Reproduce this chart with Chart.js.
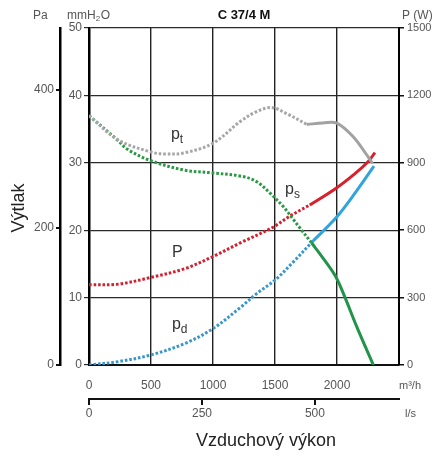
<!DOCTYPE html>
<html>
<head>
<meta charset="utf-8">
<script src="https://cdn.jsdelivr.net/npm/chart.js@4.4.1/dist/chart.umd.min.js"></script>
<style>
  html, body { margin: 0; padding: 0; background: #fff; }
  #obal { width: 433px; height: 456px; }
</style>
</head>
<body>
<div id="obal"><canvas id="graf"></canvas></div>
<script>
// prutok v m3/h, tlak v mmH2O, prikon ve W
var prutokPtTeckovany = [0, 234, 500, 613, 774, 1000, 1225, 1352, 1473, 1594, 1756];
var tlakPtTeckovany = [37.0, 33.4, 31.6, 31.3, 31.5, 32.9, 36.2, 37.6, 38.2, 37.3, 35.7];
var prutokPtPlny = [1756, 1887, 1998, 2129, 2250, 2285];
var tlakPtPlny = [35.7, 35.9, 35.9, 33.9, 30.9, 29.9];

var prutokPsTeckovany = [0, 234, 310, 500, 774, 1000, 1231, 1352, 1460, 1567, 1648, 1702, 1796];
var tlakPsTeckovany = [37.0, 33.3, 32.0, 30.3, 28.9, 28.5, 28.0, 27.2, 25.5, 23.5, 21.6, 20.3, 18.1];
var prutokPsPlny = [1796, 1890, 1990, 2065, 2159, 2293];
var tlakPsPlny = [18.1, 15.8, 13.1, 10.0, 5.7, 0];

var prutokPdTeckovany = [0, 236, 500, 774, 1000, 1225, 1352, 1500, 1648, 1796];
var tlakPdTeckovany = [0, 0.5, 1.5, 3.2, 5.4, 8.6, 10.6, 12.6, 15.3, 18.2];
var prutokPdPlny = [1796, 1990, 2145, 2298];
var tlakPdPlny = [18.2, 21.8, 25.5, 29.5];

var prutokPTeckovany = [0, 236, 500, 774, 1000, 1225, 1480, 1621, 1780];
var prikonPTeckovany = [357, 360, 390, 429, 483, 545, 612, 663, 712];
var prutokPPlny = [1780, 1990, 2145, 2252, 2306];
var prikonPPlny = [712, 786, 852, 906, 945];

var tickyPrutok = [0, 500, 1000, 1500, 2000];
var tickyLs = [0, 250, 500];
var tickyPa = [0, 200, 400];

var PISMO = '"Liberation Sans", Arial, sans-serif';
var TECKY = [2.6, 1.9];

function bodyKrivky(xs, ys) {
    var body = [];
    for (var i = 0; i < xs.length; i++) {
        body.push({x: xs[i], y: ys[i]});
    }
    return body;
}

function krivka(xs, ys, barva, teckovana, osa) {
    return {
        data: bodyKrivky(xs, ys),
        borderColor: barva,
        borderWidth: 3,
        borderDash: teckovana ? TECKY : [],
        pointRadius: 0,
        tension: 0.35,
        fill: false,
        yAxisID: osa || 'y'
    };
}

function nastavTicky(hodnoty) {
    return function (scale) {
        scale.ticks = hodnoty.map(function (v) { return {value: v}; });
    };
}

function pevnaSirka(w) {
    return function (scale) { scale.width = w; };
}

function pevnaVyska(h) {
    return function (scale) { scale.height = h; };
}

function cislo(v) {
    return String(v);
}

function textSIndexem(ctx, zaklad, index, x, y, velikost) {
    ctx.font = velikost + 'px ' + PISMO;
    ctx.fillText(zaklad, x, y);
    var w = ctx.measureText(zaklad).width;
    ctx.font = Math.round(velikost * 0.72) + 'px ' + PISMO;
    ctx.fillText(index, x + w, y + velikost * 0.25);
}

var popisky = {
    id: 'popisky',
    afterDraw: function (chart) {
        var ctx = chart.ctx;
        var sx = chart.scales.x;
        var sy = chart.scales.y;
        var area = chart.chartArea;
        ctx.save();
        ctx.textAlign = 'left';
        ctx.textBaseline = 'alphabetic';

        // nazvy krivek
        ctx.fillStyle = '#333';
        textSIndexem(ctx, 'p', 't', sx.getPixelForValue(661), sy.getPixelForValue(33.5), 16);
        textSIndexem(ctx, 'p', 's', sx.getPixelForValue(1581), sy.getPixelForValue(25.4), 16);
        ctx.font = '16px ' + PISMO;
        ctx.fillText('P', sx.getPixelForValue(669), sy.getPixelForValue(16.0));
        textSIndexem(ctx, 'p', 'd', sx.getPixelForValue(669), sy.getPixelForValue(5.3), 16);

        // jednotky os
        ctx.fillStyle = '#555';
        ctx.font = '12px ' + PISMO;
        ctx.fillText('Pa', 33, 19);
        ctx.fillText('mmH', 67, 19);
        var wmm = ctx.measureText('mmH').width;
        ctx.font = '8px ' + PISMO;
        ctx.fillText('2', 67 + wmm, 21);
        ctx.font = '12px ' + PISMO;
        ctx.fillText('O', 67 + wmm + 5, 19);
        ctx.fillText('P (W)', 402, 19);
        ctx.font = '11px ' + PISMO;
        ctx.fillText('m³/h', 399, 389);
        ctx.fillText('l/s', 405, 417);

        // titulek
        ctx.fillStyle = '#111';
        ctx.font = 'bold 13px ' + PISMO;
        ctx.textAlign = 'center';
        ctx.fillText('C 37/4 M', (area.left + area.right) / 2, 19);

        // popisy os
        ctx.fillStyle = '#222';
        ctx.font = '18px ' + PISMO;
        ctx.fillText('Vzduchový výkon', 266, 446);
        ctx.translate(24, 208);
        ctx.rotate(-Math.PI / 2);
        ctx.fillText('Výtlak', 0, 0);
        ctx.restore();
    }
};

Chart.defaults.font.family = PISMO;

var ctx = document.getElementById('graf').getContext('2d');

new Chart(ctx, {
    type: 'line',
    data: {
        datasets: [
            krivka(prutokPtTeckovany, tlakPtTeckovany, '#a6a6a6', true),
            krivka(prutokPtPlny, tlakPtPlny, '#a2a2a2', false),
            krivka(prutokPsTeckovany, tlakPsTeckovany, '#2a9844', true),
            krivka(prutokPsPlny, tlakPsPlny, '#22944a', false),
            krivka(prutokPdTeckovany, tlakPdTeckovany, '#3796cc', true),
            krivka(prutokPdPlny, tlakPdPlny, '#2fa4dd', false),
            krivka(prutokPTeckovany, prikonPTeckovany, '#d3202f', true, 'yW'),
            krivka(prutokPPlny, prikonPPlny, '#d7202c', false, 'yW')
        ]
    },
    options: {
        responsive: true,
        maintainAspectRatio: false,
        animation: false,
        layout: { padding: { left: 0, right: 0, top: 28, bottom: 30 } },
        plugins: {
            legend: { display: false },
            tooltip: { enabled: false },
            title: { display: false }
        },
        scales: {
            x: {
                type: 'linear',
                position: 'bottom',
                weight: 0,
                min: 0,
                max: 2500,
                afterBuildTicks: nastavTicky(tickyPrutok),
                afterFit: pevnaVyska(34),
                grid: { color: '#222', lineWidth: 1.4, drawTicks: false },
                border: { display: true, color: '#111', width: 2 },
                ticks: { color: '#555', font: { size: 12 }, padding: 13, maxRotation: 0, callback: cislo }
            },
            xls: {
                type: 'linear',
                position: 'bottom',
                weight: 1,
                min: 0,
                max: 686,
                afterBuildTicks: nastavTicky(tickyLs),
                afterFit: pevnaVyska(27),
                grid: { drawOnChartArea: false, drawTicks: true, tickLength: 6, color: '#111', lineWidth: 2 },
                border: { display: true, color: '#111', width: 2 },
                ticks: { color: '#555', font: { size: 12 }, padding: 1, maxRotation: 0, callback: cislo }
            },
            y: {
                position: 'left',
                weight: 0,
                min: 0,
                max: 50,
                afterFit: pevnaSirka(29),
                grid: { color: '#2a2a2a', lineWidth: 1.2, drawTicks: true, tickLength: 5 },
                border: { display: true, color: '#000', width: 2.5 },
                ticks: { stepSize: 10, color: '#555', font: { size: 12 }, padding: 2, callback: cislo }
            },
            yPa: {
                position: 'left',
                weight: 1,
                min: 0,
                max: 490.3,
                afterBuildTicks: nastavTicky(tickyPa),
                afterFit: pevnaSirka(60),
                grid: { drawOnChartArea: false, drawTicks: true, tickLength: 4, color: '#111', lineWidth: 2 },
                border: { display: true, color: '#000', width: 2.5 },
                ticks: { color: '#555', font: { size: 12 }, padding: 2, callback: cislo }
            },
            yW: {
                position: 'right',
                min: 0,
                max: 1500,
                afterFit: pevnaSirka(34),
                grid: { drawOnChartArea: false, drawTicks: true, tickLength: 5, color: '#111', lineWidth: 1.5 },
                border: { display: true, color: '#000', width: 2 },
                ticks: { stepSize: 300, color: '#555', font: { size: 11 }, padding: 3, callback: cislo }
            }
        }
    },
    plugins: [popisky]
});
</script>
</body>
</html>
